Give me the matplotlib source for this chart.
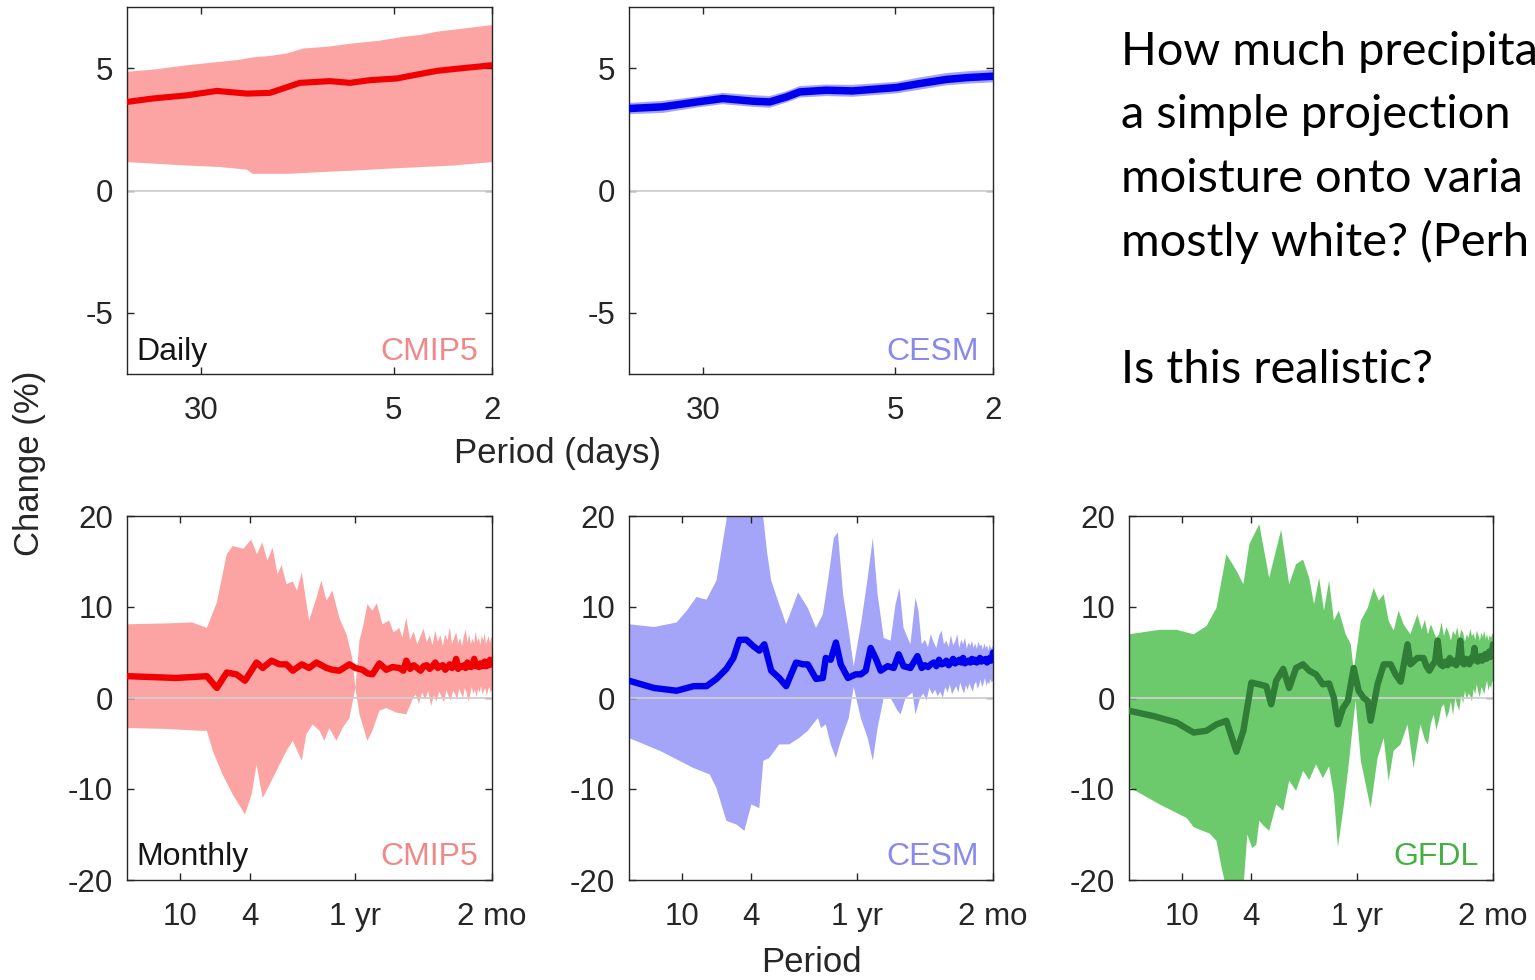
import numpy as np
import matplotlib
matplotlib.use("Agg")
import matplotlib.pyplot as plt
from matplotlib.ticker import NullLocator, FixedLocator, FixedFormatter

plt.rcParams["font.family"] = ["Liberation Sans", "DejaVu Sans"]
plt.rcParams["axes.unicode_minus"] = False

# ---------------------------------------------------------------------------
# Daily spectra: x is the harmonic k of a 60-day window (period = 60 / k days)
# ---------------------------------------------------------------------------
WINDOW_DAYS = 60

dk_cmip5_mean = [1, 1.27, 1.75, 2.31, 3.06, 3.79, 4.28, 5.01, 6.63, 8.0, 9.63, 12.4, 14.4, 18.0, 22.3, 30]
d_cmip5_mean = [3.62, 3.76, 3.89, 4.07, 3.96, 3.99, 4.17, 4.40, 4.47, 4.40, 4.51, 4.58, 4.71, 4.89, 4.99, 5.12]
dk_cmip5_hi = [1, 1.3, 1.75, 2.38, 2.8, 3.23, 3.8, 4.44, 5.16, 6.5, 8.2, 10.5, 13.1, 15.5, 18.0, 23.0, 30]
d_cmip5_hi = [4.85, 4.95, 5.12, 5.26, 5.33, 5.44, 5.50, 5.60, 5.80, 5.88, 6.01, 6.12, 6.28, 6.36, 6.49, 6.62, 6.76]
dk_cmip5_lo = [1, 1.75, 2.38, 3.06, 3.23, 4.44, 6.05, 8.5, 11.3, 15.0, 20.9, 30]
d_cmip5_lo = [1.16, 1.02, 0.96, 0.85, 0.68, 0.68, 0.75, 0.82, 0.89, 0.95, 1.02, 1.16]

dk_cesm = [1, 1.37, 1.89, 2.40, 3.18, 3.72, 4.37, 4.93, 6.33, 8.08, 12.2, 15.1, 19.4, 24.0, 30]
d_cesm_mean = [3.35, 3.42, 3.62, 3.76, 3.65, 3.62, 3.83, 4.03, 4.10, 4.07, 4.21, 4.37, 4.54, 4.62, 4.67]
d_cesm_hi = [3.58, 3.66, 3.84, 3.99, 3.90, 3.86, 4.06, 4.27, 4.33, 4.32, 4.44, 4.62, 4.80, 4.88, 4.93]
d_cesm_lo = [3.12, 3.17, 3.39, 3.53, 3.42, 3.38, 3.60, 3.80, 3.86, 3.83, 3.97, 4.12, 4.30, 4.37, 4.42]

daily_tick_periods = [30, 5, 2]

# ---------------------------------------------------------------------------
# Monthly spectra: x is the harmonic k of a 20-year record (period = 20 / k yr)
# ---------------------------------------------------------------------------
RECORD_YEARS = 20

mk_cmip5_hi = [1, 1.7, 2.35, 2.85, 3.25, 3.7, 4.0, 4.6, 5.1, 5.5, 5.9, 6.3, 6.75, 7.2, 7.6, 8.1, 8.8,
               9.3, 9.9, 10.9, 12.0, 12.8, 13.7, 14.8, 16.2, 17.8, 19.2, 20.0, 21.1, 22.2, 23.4, 25.0,
               26.5, 28.5, 31.2, 33.0, 35.6, 37.0, 39.0,
               41, 43, 45, 47, 49, 51, 53, 55, 57, 59, 61, 63, 65, 67, 69, 71, 73, 75, 77, 79,
               81, 83, 85, 87, 89, 91, 93, 95, 97, 99, 101, 103, 105, 107, 109, 111, 113, 115, 117, 119, 120]
m_cmip5_hi = [8.1, 8.2, 8.3, 7.7, 10.5, 15.8, 16.7, 16.4, 17.4, 15.8, 17.1, 15.1, 16.5, 13.6, 14.6, 12.5,
              12.8, 11.8, 13.8, 8.5, 11.0, 12.9, 10.7, 11.8, 8.8, 7.0, 4.4, 1.1, 6.3, 8.0, 10.3, 9.6,
              10.4, 8.1, 8.5, 7.2, 7.7, 6.6, 8.8,
              6.4, 7.3, 5.9, 6.8, 7.6, 6.1, 6.9, 5.8, 7.4, 6.2, 6.9, 5.7, 7.0, 6.3, 7.8, 5.9, 6.6, 7.2, 6.0, 6.6,
              5.7, 6.8, 7.5, 6.1, 7.0, 5.9, 6.5, 6.0, 7.3, 6.2, 6.6, 5.8, 6.9, 6.3, 7.1, 5.9, 6.4, 6.8, 6.0, 6.7, 6.6]
mk_cmip5_lo = [1, 1.7, 2.6, 2.85, 3.08, 3.5, 4.0, 4.7, 5.13, 5.47, 5.93, 6.5, 7.4, 8.1, 8.8, 9.9, 10.5,
               11.4, 12.5, 13.3, 14.2, 15.6, 16.9, 18.5, 20.0, 21.1, 23.4, 25.0, 27.4, 30.0, 34.2, 39.0,
               42, 44, 46, 48, 50, 52, 54, 56, 58, 60, 62, 64, 66, 68, 70, 72, 74, 76, 78, 80,
               82, 84, 86, 88, 90, 92, 94, 96, 98, 100, 102, 104, 106, 108, 110, 112, 114, 116, 118, 120]
m_cmip5_lo = [-3.3, -3.4, -3.6, -3.6, -5.8, -8.4, -10.6, -12.8, -10.6, -7.3, -11.0, -9.5, -7.3, -5.8,
              -4.7, -6.9, -4.0, -2.9, -3.6, -4.7, -3.3, -4.7, -3.3, -2.2, 1.1, -1.8, -4.7, -3.6, -1.4,
              -1.1, -1.6, -1.8,
              -0.3, 0.4, -0.6, 0.6, -0.2, 0.8, -0.9, 0.3, -0.4, 0.7, 0.1, -0.5, 0.9, 0.2, -0.3, 0.8, 0.4, -0.2, 1.0, 0.5,
              0.0, 1.1, 0.6, -0.4, 0.3, 1.2, 0.5, 0.9, 0.1, 1.0, 0.6, 1.3, 0.4, 0.8, 1.1, 0.2, 0.9, 1.2, 0.6, 0.9]
mk_cmip5_mean = [1, 1.9, 2.85, 3.25, 3.7, 4.2, 4.7, 5.47, 5.93, 6.66, 7.4, 8.1, 8.8, 9.9, 10.9, 12.0,
                 13.7, 14.8, 16.2, 18.5, 20.0, 21.9, 23.5, 25.0, 27.4, 30.0, 32.5, 35.6, 37.5, 39.0,
                 41, 43, 45, 47, 49, 51, 53, 55, 57, 59, 61, 63, 65, 67, 69, 71, 73, 75, 77, 79,
                 81, 83, 85, 87, 89, 91, 93, 95, 97, 99, 101, 103, 105, 107, 109, 111, 113, 115, 117, 119, 120]
m_cmip5_mean = [2.4, 2.2, 2.4, 1.1, 2.8, 2.6, 1.9, 3.9, 3.3, 4.1, 3.7, 3.7, 3.0, 3.7, 3.3, 3.9, 3.3,
                3.1, 3.0, 3.7, 3.3, 3.1, 2.7, 2.6, 3.8, 3.1, 3.4, 3.3, 3.0, 4.1,
                3.2, 3.6, 3.3, 3.0, 3.5, 3.6, 3.2, 3.5, 3.9, 3.3, 3.5, 3.6, 3.1, 3.4, 3.7, 3.3, 3.5, 4.3, 3.2, 3.5,
                3.4, 3.6, 3.3, 3.9, 3.5, 3.4, 3.6, 4.3, 3.5, 3.6, 3.4, 3.8, 3.5, 3.6, 4.0, 3.5, 3.7, 3.6, 4.2, 3.7, 4.1]

mk_cesm_hi = [1, 1.39, 1.87, 2.14, 2.43, 2.77, 3.16, 3.60, 3.70, 5.6, 5.85, 6.15, 6.49, 7.21, 7.9, 9.25,
              10.5, 11.7, 12.8, 13.7, 14.8, 15.6, 16.7, 18.0, 19.2, 21.1, 23.1, 24.7, 26.3, 28.5, 31.2,
              33.3, 35.1, 37.0, 40.5, 43.3, 45.0,
              47, 49, 51, 53, 55, 57, 59, 61, 63, 65, 67, 69, 71, 73, 75, 77, 79, 81, 83,
              85, 87, 89, 91, 93, 95, 97, 99, 101, 103, 105, 107, 109, 111, 113, 115, 117, 119, 120]
m_cesm_hi = [8.1, 7.8, 8.3, 9.6, 11.1, 10.8, 12.9, 19.5, 23.0, 23.0, 19.8, 16.0, 12.9, 10.3, 8.1, 11.6,
             9.9, 7.7, 9.2, 12.9, 17.6, 18.2, 11.4, 7.4, 3.5, 8.0, 13.2, 17.6, 11.4, 6.6, 6.3, 10.3, 12.1,
             7.7, 5.9, 11.0, 9.6,
             5.9, 6.4, 5.6, 7.0, 6.1, 5.5, 6.8, 7.4, 5.9, 6.3, 5.6, 6.9, 5.8, 6.2, 7.0, 5.5, 6.4, 5.9, 6.6,
             5.4, 6.1, 5.7, 6.3, 5.5, 6.0, 5.4, 6.2, 5.7, 5.9, 5.3, 6.0, 5.5, 5.8, 5.2, 5.9, 5.4, 5.6, 5.8]
mk_cesm_lo = [1, 1.5, 2.34, 2.89, 3.16, 3.60, 4.11, 4.56, 5.0, 5.55, 5.85, 6.32, 7.21, 8.22, 9.37, 10.5,
              11.2, 12.0, 12.5, 13.3, 14.2, 15.2, 16.2, 18.0, 19.2, 21.1, 23.1, 24.7, 26.3, 28.5, 31.2,
              34.2, 35.6, 38.0, 41.6, 43.3,
              46, 48, 50, 52, 54, 56, 58, 60, 62, 64, 66, 68, 70, 72, 74, 76, 78, 80, 82,
              84, 86, 88, 90, 92, 94, 96, 98, 100, 102, 104, 106, 108, 110, 112, 114, 116, 118, 120]
m_cesm_lo = [-4.4, -5.8, -7.7, -8.4, -9.9, -13.5, -13.9, -14.6, -11.7, -12.1, -6.9, -6.6, -5.1, -5.1,
             -4.4, -3.6, -2.9, -2.2, -3.3, -2.9, -5.1, -6.6, -4.7, -2.2, 1.2, -2.2, -4.4, -6.9, -3.3,
             0.0, 0.0, -1.4, -1.8, 0.0, 0.6, -1.8,
             0.0, 0.5, -0.3, 1.1, 0.4, 0.9, 0.2, 0.7, 0.0, 1.2, 0.6, 1.5, 0.4, 0.9, 1.3, 0.6, 1.7, 1.0, 0.5,
             1.4, 0.9, 1.6, 1.1, 0.7, 1.5, 1.8, 1.0, 1.4, 2.0, 1.2, 1.6, 2.2, 1.3, 1.8, 1.5, 2.1, 1.7, 1.9]
mk_cesm_mean = [1, 1.39, 1.87, 2.34, 2.77, 3.16, 3.60, 3.95, 4.27, 4.68, 5.13, 5.55, 5.93, 6.49, 7.21,
                7.9, 9.0, 9.87, 10.5, 11.7, 12.8, 13.3, 14.2, 15.2, 16.2, 17.8, 19.7, 21.1, 22.5, 24.0,
                25.6, 27.4, 30, 32.5, 34.7, 37, 40.5, 44.4,
                47, 49, 51, 53, 55, 57, 59, 61, 63, 65, 67, 69, 71, 73, 75, 77, 79, 81, 83,
                85, 87, 89, 91, 93, 95, 97, 99, 101, 103, 105, 107, 109, 111, 113, 115, 117, 119, 120]
m_cesm_mean = [1.9, 1.1, 0.8, 1.3, 1.3, 2.1, 3.2, 4.4, 6.4, 6.4, 5.7, 5.2, 5.9, 3.0, 2.2, 1.3, 3.9,
               3.7, 3.7, 2.1, 2.2, 4.4, 4.2, 6.1, 3.7, 2.2, 2.6, 2.6, 3.0, 5.5, 4.4, 3.0, 3.5, 3.3,
               4.8, 3.5, 3.3, 4.6,
               3.3, 3.6, 3.4, 3.7, 3.9, 3.5, 4.2, 3.7, 3.8, 4.1, 3.6, 3.9, 4.3, 3.8, 4.0, 4.2, 3.9, 4.4, 3.8,
               4.0, 4.1, 3.9, 4.3, 4.0, 4.2, 3.9, 4.1, 4.4, 4.0, 4.2, 4.1, 4.3, 3.9, 4.2, 4.4, 4.1, 4.6, 5.0]

mk_gfdl_hi = [1, 1.5, 1.87, 2.34, 2.77, 3.16, 3.60, 4.11, 4.50, 4.87, 5.55, 6.32, 7.40, 8.22, 9.0,
              9.87, 10.7, 11.4, 12.2, 13.0, 13.9, 14.8, 15.8, 17.3, 18.5, 19.2, 21.1, 23.1, 25.0, 26.7,
              28.5, 30.4, 32.5, 34.7, 37.0, 40.5, 44.4,
              47, 49, 51, 53, 55, 57, 59, 61, 63, 65, 67, 69, 71, 73, 75, 77, 79, 81, 83,
              85, 87, 89, 91, 93, 95, 97, 99, 101, 103, 105, 107, 109, 111, 113, 115, 117, 119, 120]
m_gfdl_hi = [7.0, 7.5, 7.5, 7.0, 7.9, 9.9, 15.8, 14.0, 12.5, 16.9, 19.1, 13.2, 18.5, 12.5, 14.7, 15.2,
             13.2, 10.3, 13.2, 9.6, 12.9, 8.5, 9.6, 7.0, 5.9, 3.0, 8.5, 9.9, 12.1, 10.7, 11.4, 8.5, 7.4,
             9.6, 8.1, 7.0, 9.2,
             7.5, 8.6, 7.0, 8.1, 7.3, 6.6, 7.0, 8.3, 6.8, 7.8, 7.2, 6.3, 7.4, 6.9, 7.8, 6.5, 7.5, 7.2, 6.2,
             7.0, 6.6, 7.6, 6.8, 7.1, 6.4, 7.4, 6.9, 6.3, 7.2, 6.7, 7.4, 6.5, 7.0, 6.3, 6.9, 6.6, 7.1, 7.0]
mk_gfdl_lo = [1, 1.5, 2.14, 2.34, 2.89, 3.16, 3.37, 3.60, 3.95, 4.50, 4.74, 5.06, 5.34, 5.55, 5.85,
              6.32, 6.93, 7.60, 8.22, 9.0, 9.87, 10.7, 11.7, 12.8, 13.9, 14.8, 15.6, 16.9, 18.0, 19.0,
              19.7, 21.1, 22.5, 24.0, 26.3, 28.5, 30.4, 32.5, 35.6, 39.0, 42.2, 46.2,
              49, 51, 53, 55, 57, 59, 61, 63, 65, 67, 69, 71, 73, 75, 77, 79, 81, 83,
              85, 87, 89, 91, 93, 95, 97, 99, 101, 103, 105, 107, 109, 111, 113, 115, 117, 119, 120]
m_gfdl_lo = [-9.8, -11.7, -13.2, -14.2, -14.9, -15.7, -18.5, -21.0, -22.0, -21.0, -15.0, -16.5, -16.1,
             -13.5, -14.0, -14.6, -11.7, -12.4, -9.1, -10.2, -8.0, -9.0, -7.3, -8.8, -7.5, -10.6, -16.4,
             -11.7, -7.3, -3.0, -0.3, -6.9, -9.5, -12.1, -6.6, -4.4, -9.1, -5.8, -5.1, -2.9, -7.7, -2.9,
             -4.6, -5.1, -2.8, -1.8, -3.5, -2.4, -1.0, -0.7, -2.2, -1.6, -0.4, -1.9, 0.0, -0.8,
             -1.4, 0.3, -0.6, 0.8, -0.2, 0.5, 0.2, -0.4, 1.0, 0.4, 1.5, 0.6, 0.1, 1.2, 0.9, 0.4,
             1.3, 1.9, 0.8, 1.4, 1.1, 1.9, 1.6]
mk_gfdl_mean = [1, 1.39, 1.87, 2.34, 2.77, 3.16, 3.60, 4.11, 4.50, 5.0, 5.55, 6.08, 6.49, 6.93, 7.60,
                8.22, 9.0, 9.87, 10.7, 11.7, 12.8, 13.9, 14.8, 15.6, 16.7, 17.8, 19.2, 20.5, 21.9, 23.1,
                24.0, 26.3, 28.5, 31.2, 33.3, 35.6, 39.0, 40.5, 44.4, 48.1,
                50, 52, 54, 56, 58, 60, 62, 64, 66, 68, 70, 72, 74, 76, 78, 80, 82, 84,
                86, 88, 90, 92, 94, 96, 98, 100, 102, 104, 106, 108, 110, 112, 114, 116, 118, 120]
m_gfdl_mean = [-1.4, -2.0, -2.7, -3.8, -3.6, -2.9, -2.5, -5.9, -3.6, 1.7, 1.5, 1.3, -0.7, 1.9, 3.2,
               1.1, 3.3, 3.7, 3.0, 2.6, 1.5, 1.6, 0.0, -2.9, -1.1, -0.3, 3.3, 0.8, 0.0, -0.3, -2.5,
               1.5, 3.7, 3.7, 2.6, 1.8, 5.9, 3.7, 4.4, 4.4,
               3.5, 3.0, 3.6, 4.0, 6.3, 3.7, 3.5, 4.0, 3.6, 4.4, 3.8, 4.1, 3.6, 4.4, 6.3, 3.9, 3.7, 4.3,
               4.0, 3.7, 4.4, 4.1, 5.5, 4.2, 4.0, 4.4, 4.6, 4.1, 4.4, 4.8, 4.3, 4.6, 5.1, 4.5, 4.7, 5.9]

monthly_tick_periods_yr = [10, 4, 1, 1 / 6]
monthly_tick_labels = ["10", "4", "1 yr", "2 mo"]

# colours
CMIP5_FILL, CMIP5_LINE, CMIP5_TEXT = "#fca3a3", "#f00000", "#f08888"
CESM_FILL, CESM_LINE, CESM_TEXT = "#a4a4f8", "#0000ee", "#8888ee"
GFDL_FILL, GFDL_LINE, GFDL_TEXT = "#6cca6c", "#2f7d37", "#44b044"
AX_COLOR = "#262626"

W, H = 1535, 980
fig = plt.figure(figsize=(W / 100, H / 100), dpi=100)


def rect(x0, y0, x1, y1):
    return [x0 / W, 1 - y1 / H, (x1 - x0) / W, (y1 - y0) / H]


def style_axes(ax):
    ax.set_xscale("log")
    ax.xaxis.set_minor_locator(NullLocator())
    ax.tick_params(direction="in", top=True, right=True, length=5, width=1.0,
                   color=AX_COLOR, labelcolor=AX_COLOR, labelsize=22.5)
    ax.tick_params(axis="y", pad=10)
    ax.tick_params(axis="x", pad=16)
    for s in ax.spines.values():
        s.set_color(AX_COLOR)
        s.set_linewidth(1.0)


def band(ax, kx_hi, hi, kx_lo, lo, color):
    xs = np.concatenate([np.asarray(kx_hi, float), np.asarray(kx_lo, float)[::-1]])
    ys = np.concatenate([np.asarray(hi, float), np.asarray(lo, float)[::-1]])
    ax.fill(xs, ys, color=color, lw=0, zorder=1)


def corner_labels(ax, left, right, right_color, y):
    if left:
        ax.text(0.027, y, left, transform=ax.transAxes, fontsize=23, color="#151515",
                ha="left", va="center")
    ax.text(0.962, y, right, transform=ax.transAxes, fontsize=23, color=right_color,
            ha="right", va="center")


# ---------------- daily row ----------------
daily_ticks = [WINDOW_DAYS / p for p in daily_tick_periods]
daily_specs = [
    (rect(127, 7, 492, 374), dk_cmip5_hi, d_cmip5_hi, dk_cmip5_lo, d_cmip5_lo, dk_cmip5_mean,
     d_cmip5_mean, CMIP5_FILL, CMIP5_LINE, 4.4, "Daily", "CMIP5", CMIP5_TEXT),
    (rect(629, 7, 993, 374), dk_cesm, d_cesm_hi, dk_cesm, d_cesm_lo, dk_cesm, d_cesm_mean,
     CESM_FILL, CESM_LINE, 5.4, None, "CESM", CESM_TEXT),
]
for (r, kh, hi, kl, lo, km, mn, fc, lc, lw, lt, rt, rc) in daily_specs:
    ax = fig.add_axes(r)
    style_axes(ax)
    band(ax, kh, hi, kl, lo, fc)
    ax.axhline(0, color="#cfcfcf", lw=1.3, zorder=2)
    ax.plot(km, mn, color=lc, lw=lw, zorder=3, solid_capstyle="round", solid_joinstyle="round")
    ax.set_xlim(1, WINDOW_DAYS / 2)
    ax.set_ylim(-7.5, 7.5)
    ax.set_yticks([-5, 0, 5])
    ax.xaxis.set_major_locator(FixedLocator(daily_ticks))
    ax.xaxis.set_major_formatter(FixedFormatter([f"{p:g}" for p in daily_tick_periods]))
    corner_labels(ax, lt, rt, rc, 0.06)

# ---------------- monthly row ----------------
monthly_ticks = [RECORD_YEARS / p for p in monthly_tick_periods_yr]
monthly_specs = [
    (rect(127, 516, 492, 880), mk_cmip5_hi, m_cmip5_hi, mk_cmip5_lo, m_cmip5_lo, mk_cmip5_mean,
     m_cmip5_mean, CMIP5_FILL, CMIP5_LINE, "Monthly", "CMIP5", CMIP5_TEXT),
    (rect(629, 516, 993, 880), mk_cesm_hi, m_cesm_hi, mk_cesm_lo, m_cesm_lo, mk_cesm_mean,
     m_cesm_mean, CESM_FILL, CESM_LINE, None, "CESM", CESM_TEXT),
    (rect(1129, 516, 1493, 880), mk_gfdl_hi, m_gfdl_hi, mk_gfdl_lo, m_gfdl_lo, mk_gfdl_mean,
     m_gfdl_mean, GFDL_FILL, GFDL_LINE, None, "GFDL", GFDL_TEXT),
]
for (r, kh, hi, kl, lo, km, mn, fc, lc, lt, rt, rc) in monthly_specs:
    ax = fig.add_axes(r)
    style_axes(ax)
    band(ax, kh, hi, kl, lo, fc)
    ax.axhline(0, color="#cfcfcf", lw=1.3, zorder=2)
    ax.plot(km, mn, color=lc, lw=4.6, zorder=3, solid_capstyle="round", solid_joinstyle="round")
    ax.set_xlim(1, RECORD_YEARS * 6)
    ax.set_ylim(-20, 20)
    ax.set_yticks([-20, -10, 0, 10, 20])
    ax.xaxis.set_major_locator(FixedLocator(monthly_ticks))
    ax.xaxis.set_major_formatter(FixedFormatter(monthly_tick_labels))
    corner_labels(ax, lt, rt, rc, 0.063)

# shared axis titles
fig.text(30 / W, 1 - 463 / H, "Change (%)", rotation=90, ha="center", va="center",
         fontsize=25, color=AX_COLOR)
fig.text(557 / W, 1 - 453 / H, "Period (days)", ha="center", va="center",
         fontsize=25, color=AX_COLOR)
fig.text(811 / W, 1 - 962 / H, "Period", ha="center", va="center",
         fontsize=25, color=AX_COLOR)

# slide text on the right (runs off the slide edge)
slide_lines = [
    "How much precipita",
    "a simple projection",
    "moisture onto varia",
    "mostly white? (Perh",
    "Is this realistic?",
]
slide_baselines = [65, 128, 192, 256, 383]
for line, yb in zip(slide_lines, slide_baselines):
    fig.text(1121 / W, 1 - yb / H, line, ha="left", va="baseline", fontsize=33.8,
             family=["Lato", "DejaVu Sans"], color="#000000")

fig.savefig("out.png", dpi=100)
